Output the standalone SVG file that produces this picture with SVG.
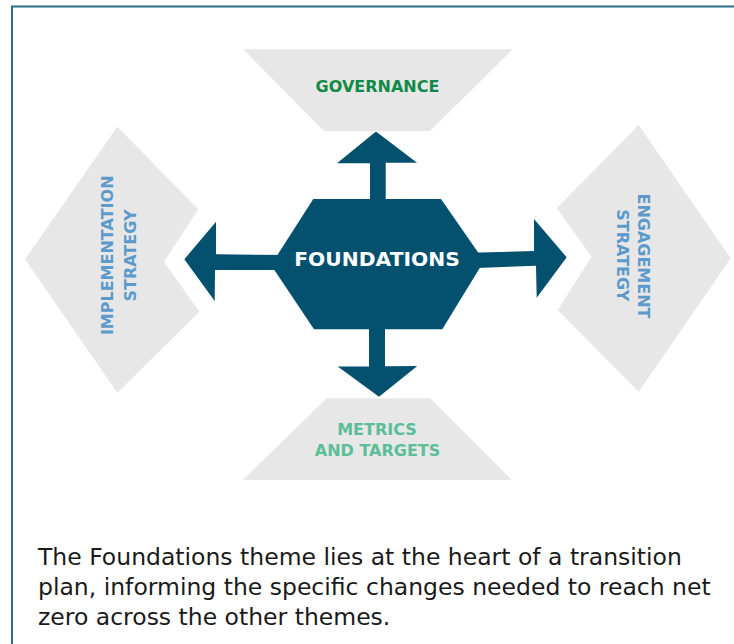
<svg xmlns="http://www.w3.org/2000/svg" width="734" height="644" viewBox="0 0 734 644">
  <style>
    .panel { fill: #e7e7e7; }
    .hub { fill: #03516f; }
    .arrow { fill: #03516f; }
    .label { font-family: "DejaVu Sans", "Liberation Sans", sans-serif; font-weight: bold; font-size: 16px; text-anchor: middle; }
    .gov { fill: #118a47; }
    .strat { fill: #5b9aca; }
    .met { fill: #5bbe98; }
    .hubtext { font-family: "DejaVu Sans", "Liberation Sans", sans-serif; font-weight: bold; font-size: 20.3px; fill: #ffffff; text-anchor: middle; }
    .caption { font-family: "DejaVu Sans", "Liberation Sans", sans-serif; font-size: 23.5px; fill: #1a1a1a; }
  </style>

  <rect width="734" height="644" fill="#ffffff"/>

  <!-- frame: open on the right and bottom -->
  <path d="M12,644 V6.5 H734" fill="none" stroke="#2a6b8b" stroke-width="2"/>

  <!-- top theme -->
  <g id="governance">
    <polygon class="panel" points="243.3,49.3 512.7,49.3 430,131 324,131"/>
    <text class="label gov" x="377.5" y="92.3">GOVERNANCE</text>
  </g>

  <!-- left theme -->
  <g id="implementation-strategy">
    <polygon class="panel" points="117.3,126.7 198.3,209.3 164,261.7 199.3,311.7 117.3,392.7 25,259.3"/>
    <text class="label strat" transform="translate(113.3,255.3) rotate(-90)">IMPLEMENTATION</text>
    <text class="label strat" transform="translate(136,255.5) rotate(-90)">STRATEGY</text>
  </g>

  <!-- right theme -->
  <g id="engagement-strategy">
    <polygon class="panel" points="638.7,125 730.7,258.3 638.7,391.7 557.7,310 591.7,256.7 556.7,208.3"/>
    <text class="label strat" transform="translate(637.5,256) rotate(90)">ENGAGEMENT</text>
    <text class="label strat" transform="translate(617,255.3) rotate(90)">STRATEGY</text>
  </g>

  <!-- bottom theme -->
  <g id="metrics-and-targets">
    <polygon class="panel" points="326.7,398.3 430,398.3 511.7,480 242.7,480"/>
    <text class="label met" x="377" y="435">METRICS</text>
    <text class="label met" x="377.5" y="456">AND TARGETS</text>
  </g>

  <!-- arrows from the hub -->
  <g id="connectors">
    <polygon class="arrow" points="376,131.5 417,162.8 385.7,162.8 385.7,210 370,210 370,163.3 337,163.3"/>
    <polygon class="arrow" points="369,320 385,320 385,366.2 417.3,366 379,396.7 337.7,366.5 369,366.5"/>
    <polygon class="arrow" points="184.3,259.3 216,221.7 216,254.3 290,255 290,270 215,270 214.7,301"/>
    <polygon class="arrow" points="566.7,257.3 536.7,297.7 536,265.7 470,268.3 470,252.7 534,251 534,219"/>
  </g>

  <!-- hub -->
  <g id="foundations">
    <polygon class="hub" points="313.3,199 441,199 484,261 442.3,329.3 314,329.3 271,265"/>
    <text class="hubtext" x="377" y="265.7">FOUNDATIONS</text>
  </g>

  <!-- caption -->
  <g id="caption">
    <text class="caption" x="38" y="565">The Foundations theme lies at the heart of a transition</text>
    <text class="caption" x="38" y="595">plan, informing the specific changes needed to reach net</text>
    <text class="caption" x="38" y="625">zero across the other themes.</text>
  </g>
</svg>
